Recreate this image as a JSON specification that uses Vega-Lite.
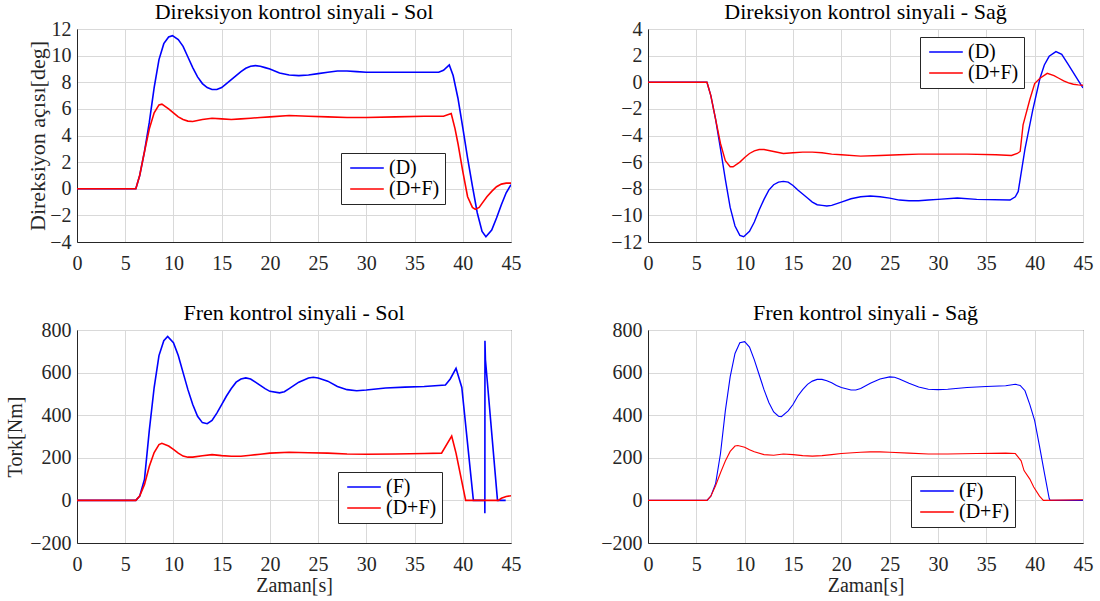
{
"$schema":"https://vega.github.io/schema/vega-lite/v6.json",
"background":"white",
"padding":{"left":5,"top":0,"right":0,"bottom":0},
"datasets":{
"tl":[
{"t":0,"v":0,"s":"(D)"},{"t":6.1,"v":0,"s":"(D)"},{"t":6.5,"v":1,"s":"(D)"},{"t":7,"v":2.8,"s":"(D)"},{"t":7.5,"v":5,"s":"(D)"},{"t":8,"v":7.6,"s":"(D)"},{"t":8.5,"v":9.7,"s":"(D)"},{"t":9,"v":10.9,"s":"(D)"},{"t":9.5,"v":11.4,"s":"(D)"},{"t":9.9,"v":11.5,"s":"(D)"},{"t":10.5,"v":11.2,"s":"(D)"},{"t":11,"v":10.7,"s":"(D)"},{"t":11.5,"v":9.9,"s":"(D)"},{"t":12,"v":9.1,"s":"(D)"},{"t":12.5,"v":8.4,"s":"(D)"},{"t":13,"v":7.9,"s":"(D)"},{"t":13.5,"v":7.6,"s":"(D)"},{"t":14,"v":7.45,"s":"(D)"},{"t":14.5,"v":7.45,"s":"(D)"},{"t":15,"v":7.6,"s":"(D)"},{"t":15.5,"v":7.9,"s":"(D)"},{"t":16,"v":8.2,"s":"(D)"},{"t":16.5,"v":8.5,"s":"(D)"},{"t":17,"v":8.8,"s":"(D)"},{"t":17.5,"v":9.05,"s":"(D)"},{"t":18,"v":9.2,"s":"(D)"},{"t":18.5,"v":9.25,"s":"(D)"},{"t":19,"v":9.2,"s":"(D)"},{"t":19.5,"v":9.1,"s":"(D)"},{"t":20,"v":9.0,"s":"(D)"},{"t":21,"v":8.7,"s":"(D)"},{"t":22,"v":8.55,"s":"(D)"},{"t":23,"v":8.5,"s":"(D)"},{"t":24,"v":8.55,"s":"(D)"},{"t":25,"v":8.65,"s":"(D)"},{"t":26,"v":8.75,"s":"(D)"},{"t":27,"v":8.85,"s":"(D)"},{"t":28,"v":8.85,"s":"(D)"},{"t":29,"v":8.8,"s":"(D)"},{"t":30,"v":8.75,"s":"(D)"},{"t":32,"v":8.75,"s":"(D)"},{"t":35,"v":8.75,"s":"(D)"},{"t":37.5,"v":8.75,"s":"(D)"},{"t":38,"v":8.9,"s":"(D)"},{"t":38.6,"v":9.3,"s":"(D)"},{"t":39,"v":8.5,"s":"(D)"},{"t":39.5,"v":6.8,"s":"(D)"},{"t":40,"v":4.6,"s":"(D)"},{"t":40.5,"v":2.3,"s":"(D)"},{"t":41,"v":0.2,"s":"(D)"},{"t":41.5,"v":-1.8,"s":"(D)"},{"t":42,"v":-3.2,"s":"(D)"},{"t":42.4,"v":-3.6,"s":"(D)"},{"t":43,"v":-3.1,"s":"(D)"},{"t":43.5,"v":-2.2,"s":"(D)"},{"t":44,"v":-1.2,"s":"(D)"},{"t":44.5,"v":-0.3,"s":"(D)"},{"t":45,"v":0.3,"s":"(D)"},
{"t":0,"v":0,"s":"(D+F)"},{"t":6.1,"v":0,"s":"(D+F)"},{"t":6.5,"v":1,"s":"(D+F)"},{"t":7,"v":2.8,"s":"(D+F)"},{"t":7.5,"v":4.5,"s":"(D+F)"},{"t":8,"v":5.7,"s":"(D+F)"},{"t":8.5,"v":6.3,"s":"(D+F)"},{"t":8.8,"v":6.35,"s":"(D+F)"},{"t":9.5,"v":6.0,"s":"(D+F)"},{"t":10,"v":5.7,"s":"(D+F)"},{"t":10.5,"v":5.4,"s":"(D+F)"},{"t":11,"v":5.2,"s":"(D+F)"},{"t":11.5,"v":5.08,"s":"(D+F)"},{"t":12,"v":5.05,"s":"(D+F)"},{"t":13,"v":5.2,"s":"(D+F)"},{"t":14,"v":5.3,"s":"(D+F)"},{"t":15,"v":5.25,"s":"(D+F)"},{"t":16,"v":5.2,"s":"(D+F)"},{"t":17,"v":5.25,"s":"(D+F)"},{"t":18,"v":5.3,"s":"(D+F)"},{"t":19,"v":5.35,"s":"(D+F)"},{"t":20,"v":5.4,"s":"(D+F)"},{"t":22,"v":5.5,"s":"(D+F)"},{"t":24,"v":5.45,"s":"(D+F)"},{"t":26,"v":5.4,"s":"(D+F)"},{"t":28,"v":5.35,"s":"(D+F)"},{"t":30,"v":5.35,"s":"(D+F)"},{"t":33,"v":5.4,"s":"(D+F)"},{"t":36,"v":5.45,"s":"(D+F)"},{"t":38,"v":5.45,"s":"(D+F)"},{"t":38.8,"v":5.65,"s":"(D+F)"},{"t":39.2,"v":4.5,"s":"(D+F)"},{"t":39.5,"v":3.4,"s":"(D+F)"},{"t":40,"v":1.3,"s":"(D+F)"},{"t":40.5,"v":-0.6,"s":"(D+F)"},{"t":41,"v":-1.4,"s":"(D+F)"},{"t":41.3,"v":-1.55,"s":"(D+F)"},{"t":41.7,"v":-1.4,"s":"(D+F)"},{"t":42,"v":-1.1,"s":"(D+F)"},{"t":42.5,"v":-0.6,"s":"(D+F)"},{"t":43,"v":-0.2,"s":"(D+F)"},{"t":43.5,"v":0.15,"s":"(D+F)"},{"t":44,"v":0.35,"s":"(D+F)"},{"t":44.5,"v":0.42,"s":"(D+F)"},{"t":45,"v":0.42,"s":"(D+F)"}
],
"tr":[
{"t":0,"v":0,"s":"(D)"},{"t":6.1,"v":0,"s":"(D)"},{"t":6.5,"v":-1,"s":"(D)"},{"t":7,"v":-2.8,"s":"(D)"},{"t":7.5,"v":-5,"s":"(D)"},{"t":8,"v":-7.3,"s":"(D)"},{"t":8.5,"v":-9.4,"s":"(D)"},{"t":9,"v":-10.8,"s":"(D)"},{"t":9.5,"v":-11.5,"s":"(D)"},{"t":9.9,"v":-11.6,"s":"(D)"},{"t":10.5,"v":-11.2,"s":"(D)"},{"t":11,"v":-10.5,"s":"(D)"},{"t":11.5,"v":-9.6,"s":"(D)"},{"t":12,"v":-8.8,"s":"(D)"},{"t":12.5,"v":-8.1,"s":"(D)"},{"t":13,"v":-7.7,"s":"(D)"},{"t":13.5,"v":-7.5,"s":"(D)"},{"t":14,"v":-7.45,"s":"(D)"},{"t":14.5,"v":-7.5,"s":"(D)"},{"t":15,"v":-7.75,"s":"(D)"},{"t":15.5,"v":-8.1,"s":"(D)"},{"t":16,"v":-8.4,"s":"(D)"},{"t":16.5,"v":-8.7,"s":"(D)"},{"t":17,"v":-9.0,"s":"(D)"},{"t":17.5,"v":-9.2,"s":"(D)"},{"t":18,"v":-9.25,"s":"(D)"},{"t":18.5,"v":-9.3,"s":"(D)"},{"t":19,"v":-9.25,"s":"(D)"},{"t":20,"v":-9.0,"s":"(D)"},{"t":21,"v":-8.75,"s":"(D)"},{"t":22,"v":-8.6,"s":"(D)"},{"t":23,"v":-8.55,"s":"(D)"},{"t":24,"v":-8.6,"s":"(D)"},{"t":25,"v":-8.7,"s":"(D)"},{"t":26,"v":-8.85,"s":"(D)"},{"t":27,"v":-8.9,"s":"(D)"},{"t":28,"v":-8.9,"s":"(D)"},{"t":29,"v":-8.85,"s":"(D)"},{"t":30,"v":-8.8,"s":"(D)"},{"t":32,"v":-8.7,"s":"(D)"},{"t":34,"v":-8.8,"s":"(D)"},{"t":37.45,"v":-8.85,"s":"(D)"},{"t":38,"v":-8.6,"s":"(D)"},{"t":38.3,"v":-8.2,"s":"(D)"},{"t":39,"v":-5.0,"s":"(D)"},{"t":39.8,"v":-2.1,"s":"(D)"},{"t":40.55,"v":0.3,"s":"(D)"},{"t":41,"v":1.3,"s":"(D)"},{"t":41.5,"v":1.95,"s":"(D)"},{"t":42.2,"v":2.3,"s":"(D)"},{"t":42.8,"v":2.1,"s":"(D)"},{"t":43.5,"v":1.3,"s":"(D)"},{"t":44,"v":0.72,"s":"(D)"},{"t":44.5,"v":0.15,"s":"(D)"},{"t":45,"v":-0.43,"s":"(D)"},
{"t":0,"v":0,"s":"(D+F)"},{"t":6.1,"v":0,"s":"(D+F)"},{"t":6.5,"v":-1,"s":"(D+F)"},{"t":7,"v":-2.8,"s":"(D+F)"},{"t":7.5,"v":-4.6,"s":"(D+F)"},{"t":8,"v":-5.9,"s":"(D+F)"},{"t":8.5,"v":-6.35,"s":"(D+F)"},{"t":8.8,"v":-6.35,"s":"(D+F)"},{"t":9.5,"v":-6.0,"s":"(D+F)"},{"t":10,"v":-5.65,"s":"(D+F)"},{"t":10.5,"v":-5.35,"s":"(D+F)"},{"t":11,"v":-5.15,"s":"(D+F)"},{"t":11.5,"v":-5.05,"s":"(D+F)"},{"t":12,"v":-5.05,"s":"(D+F)"},{"t":13,"v":-5.2,"s":"(D+F)"},{"t":14,"v":-5.35,"s":"(D+F)"},{"t":15,"v":-5.3,"s":"(D+F)"},{"t":16,"v":-5.25,"s":"(D+F)"},{"t":17,"v":-5.25,"s":"(D+F)"},{"t":18,"v":-5.3,"s":"(D+F)"},{"t":19,"v":-5.4,"s":"(D+F)"},{"t":20,"v":-5.45,"s":"(D+F)"},{"t":22,"v":-5.55,"s":"(D+F)"},{"t":24,"v":-5.5,"s":"(D+F)"},{"t":26,"v":-5.45,"s":"(D+F)"},{"t":28,"v":-5.4,"s":"(D+F)"},{"t":30,"v":-5.4,"s":"(D+F)"},{"t":33,"v":-5.4,"s":"(D+F)"},{"t":36,"v":-5.45,"s":"(D+F)"},{"t":37.6,"v":-5.5,"s":"(D+F)"},{"t":38.2,"v":-5.35,"s":"(D+F)"},{"t":38.5,"v":-5.2,"s":"(D+F)"},{"t":38.8,"v":-3.2,"s":"(D+F)"},{"t":39.5,"v":-1.3,"s":"(D+F)"},{"t":40,"v":-0.1,"s":"(D+F)"},{"t":40.55,"v":0.3,"s":"(D+F)"},{"t":41.3,"v":0.67,"s":"(D+F)"},{"t":42,"v":0.5,"s":"(D+F)"},{"t":42.5,"v":0.3,"s":"(D+F)"},{"t":43,"v":0.1,"s":"(D+F)"},{"t":43.5,"v":-0.05,"s":"(D+F)"},{"t":44,"v":-0.15,"s":"(D+F)"},{"t":44.5,"v":-0.2,"s":"(D+F)"},{"t":45,"v":-0.22,"s":"(D+F)"}
],
"bl":[
{"t":0,"v":0,"s":"(F)"},{"t":6.1,"v":0,"s":"(F)"},{"t":6.5,"v":20,"s":"(F)"},{"t":7,"v":100,"s":"(F)"},{"t":7.5,"v":330,"s":"(F)"},{"t":8,"v":530,"s":"(F)"},{"t":8.5,"v":680,"s":"(F)"},{"t":9,"v":750,"s":"(F)"},{"t":9.4,"v":770,"s":"(F)"},{"t":10,"v":740,"s":"(F)"},{"t":10.5,"v":680,"s":"(F)"},{"t":11,"v":600,"s":"(F)"},{"t":11.5,"v":520,"s":"(F)"},{"t":12,"v":450,"s":"(F)"},{"t":12.5,"v":395,"s":"(F)"},{"t":13,"v":365,"s":"(F)"},{"t":13.5,"v":360,"s":"(F)"},{"t":14,"v":375,"s":"(F)"},{"t":14.5,"v":410,"s":"(F)"},{"t":15,"v":450,"s":"(F)"},{"t":15.5,"v":490,"s":"(F)"},{"t":16,"v":525,"s":"(F)"},{"t":16.5,"v":555,"s":"(F)"},{"t":17,"v":570,"s":"(F)"},{"t":17.5,"v":575,"s":"(F)"},{"t":18,"v":570,"s":"(F)"},{"t":18.5,"v":555,"s":"(F)"},{"t":19,"v":540,"s":"(F)"},{"t":19.5,"v":525,"s":"(F)"},{"t":20,"v":512,"s":"(F)"},{"t":21,"v":505,"s":"(F)"},{"t":21.5,"v":510,"s":"(F)"},{"t":22,"v":525,"s":"(F)"},{"t":23,"v":555,"s":"(F)"},{"t":24,"v":575,"s":"(F)"},{"t":24.5,"v":578,"s":"(F)"},{"t":25,"v":575,"s":"(F)"},{"t":26,"v":560,"s":"(F)"},{"t":27,"v":535,"s":"(F)"},{"t":28,"v":520,"s":"(F)"},{"t":29,"v":515,"s":"(F)"},{"t":30,"v":518,"s":"(F)"},{"t":32,"v":528,"s":"(F)"},{"t":34,"v":532,"s":"(F)"},{"t":36,"v":535,"s":"(F)"},{"t":38.2,"v":542,"s":"(F)"},{"t":38.7,"v":570,"s":"(F)"},{"t":39.3,"v":620,"s":"(F)"},{"t":39.9,"v":530,"s":"(F)"},{"t":41.1,"v":0,"s":"(F)"},{"t":42.28,"v":0,"s":"(F)"},{"t":42.29,"v":-60,"s":"(F)"},{"t":42.3,"v":750,"s":"(F)"},{"t":42.35,"v":660,"s":"(F)"},{"t":43.6,"v":0,"s":"(F)"},{"t":44.45,"v":0,"s":"(F)"},
{"t":0,"v":0,"s":"(D+F)"},{"t":6.1,"v":0,"s":"(D+F)"},{"t":6.5,"v":20,"s":"(D+F)"},{"t":7,"v":75,"s":"(D+F)"},{"t":7.5,"v":160,"s":"(D+F)"},{"t":8,"v":225,"s":"(D+F)"},{"t":8.5,"v":262,"s":"(D+F)"},{"t":8.8,"v":268,"s":"(D+F)"},{"t":9.5,"v":255,"s":"(D+F)"},{"t":10,"v":240,"s":"(D+F)"},{"t":10.5,"v":222,"s":"(D+F)"},{"t":11,"v":208,"s":"(D+F)"},{"t":11.5,"v":203,"s":"(D+F)"},{"t":12,"v":203,"s":"(D+F)"},{"t":13,"v":210,"s":"(D+F)"},{"t":14,"v":215,"s":"(D+F)"},{"t":15,"v":210,"s":"(D+F)"},{"t":16,"v":207,"s":"(D+F)"},{"t":17,"v":207,"s":"(D+F)"},{"t":18,"v":212,"s":"(D+F)"},{"t":19,"v":217,"s":"(D+F)"},{"t":20,"v":222,"s":"(D+F)"},{"t":22,"v":226,"s":"(D+F)"},{"t":24,"v":224,"s":"(D+F)"},{"t":26,"v":222,"s":"(D+F)"},{"t":28,"v":218,"s":"(D+F)"},{"t":30,"v":217,"s":"(D+F)"},{"t":33,"v":218,"s":"(D+F)"},{"t":36,"v":220,"s":"(D+F)"},{"t":37.8,"v":222,"s":"(D+F)"},{"t":38.85,"v":302,"s":"(D+F)"},{"t":39.3,"v":222,"s":"(D+F)"},{"t":40.3,"v":0,"s":"(D+F)"},{"t":43.7,"v":0,"s":"(D+F)"},{"t":44,"v":10,"s":"(D+F)"},{"t":44.5,"v":18,"s":"(D+F)"},{"t":45,"v":22,"s":"(D+F)"}
],
"br":[
{"t":0,"v":0,"s":"(F)"},{"t":6.1,"v":0,"s":"(F)"},{"t":6.5,"v":20,"s":"(F)"},{"t":7,"v":80,"s":"(F)"},{"t":7.5,"v":220,"s":"(F)"},{"t":8,"v":420,"s":"(F)"},{"t":8.5,"v":580,"s":"(F)"},{"t":9,"v":690,"s":"(F)"},{"t":9.5,"v":740,"s":"(F)"},{"t":10,"v":745,"s":"(F)"},{"t":10.5,"v":720,"s":"(F)"},{"t":11,"v":660,"s":"(F)"},{"t":11.5,"v":590,"s":"(F)"},{"t":12,"v":520,"s":"(F)"},{"t":12.5,"v":460,"s":"(F)"},{"t":13,"v":415,"s":"(F)"},{"t":13.5,"v":395,"s":"(F)"},{"t":13.8,"v":393,"s":"(F)"},{"t":14.5,"v":420,"s":"(F)"},{"t":15,"v":450,"s":"(F)"},{"t":15.5,"v":490,"s":"(F)"},{"t":16,"v":520,"s":"(F)"},{"t":16.5,"v":545,"s":"(F)"},{"t":17,"v":560,"s":"(F)"},{"t":17.5,"v":568,"s":"(F)"},{"t":18,"v":568,"s":"(F)"},{"t":18.5,"v":562,"s":"(F)"},{"t":19,"v":552,"s":"(F)"},{"t":19.5,"v":540,"s":"(F)"},{"t":20,"v":530,"s":"(F)"},{"t":21,"v":518,"s":"(F)"},{"t":21.5,"v":518,"s":"(F)"},{"t":22,"v":525,"s":"(F)"},{"t":23,"v":550,"s":"(F)"},{"t":24,"v":570,"s":"(F)"},{"t":25,"v":580,"s":"(F)"},{"t":25.5,"v":578,"s":"(F)"},{"t":26,"v":570,"s":"(F)"},{"t":27,"v":550,"s":"(F)"},{"t":28,"v":532,"s":"(F)"},{"t":29,"v":522,"s":"(F)"},{"t":30,"v":520,"s":"(F)"},{"t":31,"v":522,"s":"(F)"},{"t":33,"v":530,"s":"(F)"},{"t":35,"v":535,"s":"(F)"},{"t":37,"v":538,"s":"(F)"},{"t":38,"v":545,"s":"(F)"},{"t":38.5,"v":540,"s":"(F)"},{"t":39,"v":515,"s":"(F)"},{"t":39.5,"v":450,"s":"(F)"},{"t":40,"v":375,"s":"(F)"},{"t":40.5,"v":255,"s":"(F)"},{"t":41,"v":130,"s":"(F)"},{"t":41.5,"v":10,"s":"(F)"},{"t":41.6,"v":0,"s":"(F)"},{"t":45,"v":0,"s":"(F)"},
{"t":0,"v":0,"s":"(D+F)"},{"t":6.1,"v":0,"s":"(D+F)"},{"t":6.5,"v":20,"s":"(D+F)"},{"t":7,"v":70,"s":"(D+F)"},{"t":7.5,"v":130,"s":"(D+F)"},{"t":8,"v":185,"s":"(D+F)"},{"t":8.5,"v":230,"s":"(D+F)"},{"t":9,"v":255,"s":"(D+F)"},{"t":9.3,"v":258,"s":"(D+F)"},{"t":10,"v":250,"s":"(D+F)"},{"t":10.5,"v":238,"s":"(D+F)"},{"t":11,"v":228,"s":"(D+F)"},{"t":12,"v":215,"s":"(D+F)"},{"t":13,"v":212,"s":"(D+F)"},{"t":14,"v":218,"s":"(D+F)"},{"t":15,"v":215,"s":"(D+F)"},{"t":16,"v":210,"s":"(D+F)"},{"t":17,"v":208,"s":"(D+F)"},{"t":18,"v":210,"s":"(D+F)"},{"t":19,"v":215,"s":"(D+F)"},{"t":20,"v":220,"s":"(D+F)"},{"t":22,"v":226,"s":"(D+F)"},{"t":23,"v":228,"s":"(D+F)"},{"t":24,"v":228,"s":"(D+F)"},{"t":25,"v":226,"s":"(D+F)"},{"t":27,"v":222,"s":"(D+F)"},{"t":29,"v":218,"s":"(D+F)"},{"t":31,"v":218,"s":"(D+F)"},{"t":34,"v":220,"s":"(D+F)"},{"t":37,"v":222,"s":"(D+F)"},{"t":38,"v":220,"s":"(D+F)"},{"t":38.6,"v":186,"s":"(D+F)"},{"t":38.9,"v":140,"s":"(D+F)"},{"t":39.5,"v":100,"s":"(D+F)"},{"t":39.9,"v":63,"s":"(D+F)"},{"t":40.5,"v":20,"s":"(D+F)"},{"t":40.9,"v":0,"s":"(D+F)"},{"t":45,"v":3,"s":"(D+F)"}
]
},
"columns":2,
"spacing":{"row":88,"column":137},
"bounds":"flush",
"resolve":{"scale":{"color":"independent","y":"independent","x":"independent"},"legend":{"color":"independent"}},
"concat":[
{"width":434,"height":213,"title":"Direksiyon kontrol sinyali - Sol","data":{"name":"tl"},
 "mark":{"type":"line","strokeWidth":1.6,"clip":true},
 "encoding":{
  "x":{"field":"t","type":"quantitative","scale":{"domain":[0,45],"nice":false},"axis":{"values":[0,5,10,15,20,25,30,35,40,45],"title":null}},
  "y":{"field":"v","type":"quantitative","scale":{"domain":[-4,12],"nice":false,"zero":false},"axis":{"values":[-4,-2,0,2,4,6,8,10,12],"title":"Direksiyon açısı[deg]","titleFontSize":22,"titlePadding":0}},
  "color":{"field":"s","type":"nominal","scale":{"domain":["(D)","(D+F)"],"range":["#0000ff","#ff0000"]},"legend":{"legendX":264,"legendY":124}}}},
{"width":435,"height":213,"title":"Direksiyon kontrol sinyali - Sağ","data":{"name":"tr"},
 "mark":{"type":"line","strokeWidth":1.4,"clip":true},
 "encoding":{
  "x":{"field":"t","type":"quantitative","scale":{"domain":[0,45],"nice":false},"axis":{"values":[0,5,10,15,20,25,30,35,40,45],"title":null}},
  "y":{"field":"v","type":"quantitative","scale":{"domain":[-12,4],"nice":false,"zero":false},"axis":{"values":[-12,-10,-8,-6,-4,-2,0,2,4],"title":null}},
  "color":{"field":"s","type":"nominal","scale":{"domain":["(D)","(D+F)"],"range":["#0000ff","#ff0000"]},"legend":{"legendX":272,"legendY":8}}}},
{"width":434,"height":213,"title":"Fren kontrol sinyali - Sol","data":{"name":"bl"},
 "mark":{"type":"line","strokeWidth":1.6,"clip":true},
 "encoding":{
  "x":{"field":"t","type":"quantitative","scale":{"domain":[0,45],"nice":false},"axis":{"values":[0,5,10,15,20,25,30,35,40,45],"title":"Zaman[s]"}},
  "y":{"field":"v","type":"quantitative","scale":{"domain":[-200,800],"nice":false,"zero":false},"axis":{"values":[-200,0,200,400,600,800],"title":"Tork[Nm]"}},
  "color":{"field":"s","type":"nominal","scale":{"domain":["(F)","(D+F)"],"range":["#0000ff","#ff0000"]},"legend":{"legendX":261,"legendY":142}}}},
{"width":435,"height":213,"title":"Fren kontrol sinyali - Sağ","data":{"name":"br"},
 "mark":{"type":"line","strokeWidth":1.1,"clip":true},
 "encoding":{
  "x":{"field":"t","type":"quantitative","scale":{"domain":[0,45],"nice":false},"axis":{"values":[0,5,10,15,20,25,30,35,40,45],"title":"Zaman[s]"}},
  "y":{"field":"v","type":"quantitative","scale":{"domain":[-200,800],"nice":false,"zero":false},"axis":{"values":[-200,0,200,400,600,800],"title":null}},
  "color":{"field":"s","type":"nominal","scale":{"domain":["(F)","(D+F)"],"range":["#0000ff","#ff0000"]},"legend":{"legendX":263,"legendY":146}}}}
],
"config":{
 "font":"Liberation Serif",
 "view":{"stroke":"#262626","strokeWidth":1},
 "axis":{"labelFont":"Liberation Serif","labelFontSize":20,"labelColor":"#262626","titleFont":"Liberation Serif","titleFontSize":20,"titleFontWeight":"normal","titleColor":"#262626","grid":true,"gridColor":"#d9d9d9","gridWidth":1,"domainColor":"#262626","ticks":false,"labelPadding":6,"titlePadding":4,"labelFlush":false},
 "axisX":{"labelPadding":11,"titlePadding":1},
 "title":{"font":"Liberation Serif","fontSize":22,"fontWeight":"normal","color":"#000000","offset":-5},
 "legend":{"orient":"none","title":null,"strokeColor":"#262626","fillColor":"#ffffff","padding":5,"symbolType":"M-2.1,0H2.1","symbolSize":256,"symbolOffset":11,"symbolStrokeWidth":1.5,"labelFont":"Liberation Serif","labelFontSize":20,"labelColor":"#000000","rowPadding":1,"labelOffset":12}
}
}
